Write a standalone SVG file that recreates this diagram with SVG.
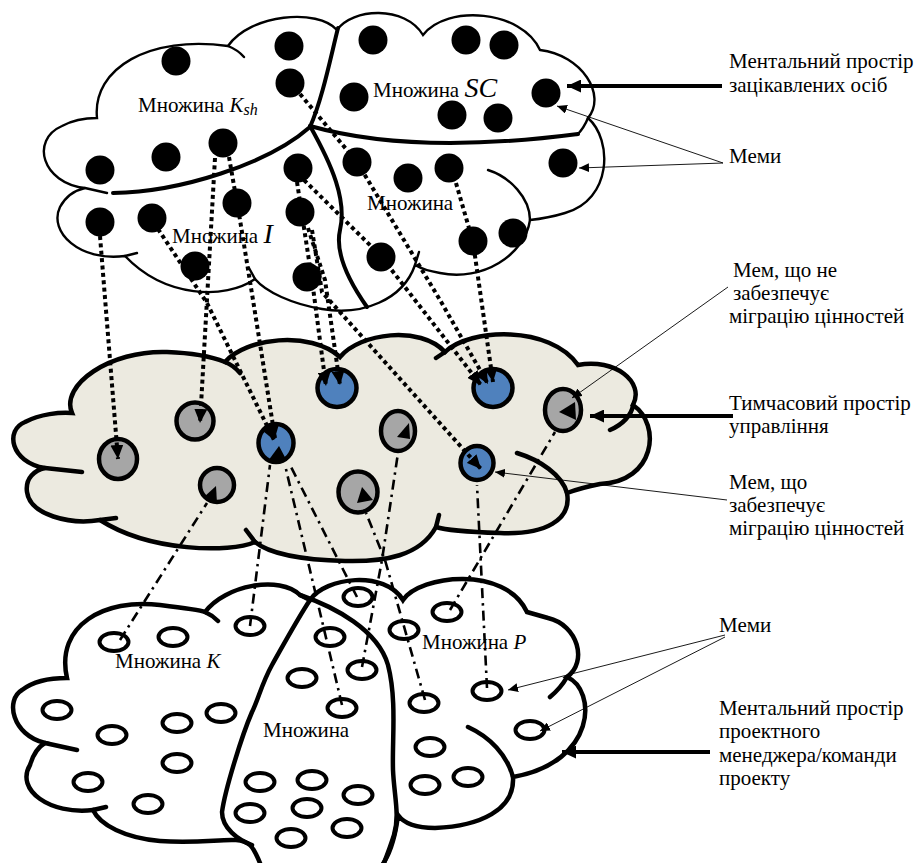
<svg xmlns="http://www.w3.org/2000/svg" width="920" height="863" viewBox="0 0 920 863">
<defs>
<marker id="ah" markerUnits="userSpaceOnUse" markerWidth="15" markerHeight="13" refX="14" refY="6.5" orient="auto"><path d="M0,0 L14,6.5 L0,13 z" fill="#000"/></marker>
<marker id="ahs" markerUnits="userSpaceOnUse" markerWidth="11" markerHeight="9" refX="10" refY="4.5" orient="auto"><path d="M0,0 L10,4.5 L0,9 z" fill="#000"/></marker>
<style>
.thin{fill:none;stroke:#000;stroke-width:2.4;stroke-linecap:round}
.thick{fill:none;stroke:#000;stroke-width:4;stroke-linecap:round}
.mid{fill:none;stroke:#000;stroke-width:4.5;stroke-linecap:round}
.dot{fill:#000}
.dotted{fill:none;stroke:#000;stroke-width:4;stroke-dasharray:4 3.4;marker-end:url(#ah)}
.dashdot{fill:none;stroke:#000;stroke-width:2.6;stroke-dasharray:10 5 2.5 5}
.gray{fill:#A6A6A6;stroke:#000;stroke-width:4.5}
.blue{fill:#4F81BD;stroke:#000;stroke-width:4.5}
.oval{fill:none;stroke:#000;stroke-width:4}
.ann{fill:none;stroke:#000;stroke-width:0.9;marker-end:url(#ahs)}
.annb{fill:none;stroke:#000;stroke-width:4;marker-end:url(#ah)}
text{font-family:"Liberation Serif","Times New Roman",serif;font-size:21px;fill:#000}
.it{font-style:italic}
</style>
</defs>

<g id="top-cloud">
<path d="M97,118 C92,68 150,35 228,46 C250,14 318,8 337,30 C352,8 405,5 423,35 C447,4 522,10 540,50 C582,55 607,95 588,118 C613,140 612,200 565,213 C552,217 540,219 530,220 C525,255 482,282 440,273 C428,271 420,268 415,265 C403,300 362,316 322,309 C292,304 266,292 255,279 C225,300 165,298 125,256 C80,262 48,232 60,207 C66,196 76,190 85,188 C42,183 30,140 62,126 C73,120 86,118 97,118 Z" fill="#fff" stroke="#000" stroke-width="2.4"/>
<path class="thin" d="M228,46 Q238,50 244,57 M588,118 Q584,128 577,135 M488,170 C510,177 530,198 530,220 M415,265 L419,252 M255,279 L249,268 M125,256 L137,253 M85,188 L107,193"/>
<path class="thick" d="M113,193 C180,192 268,164 310,127 C322,100 330,60 338,28"/>
<path class="thick" d="M310,126 C370,143 455,150 578,134"/>
<path class="thick" d="M310,126 C332,165 347,200 340,230 C335,252 348,280 367,307"/>
</g>

<g id="top-memes">
<circle class="dot" cx="176" cy="61" r="14.5"/>
<circle class="dot" cx="289" cy="46" r="14.5"/>
<circle class="dot" cx="290" cy="83" r="14.5"/>
<circle class="dot" cx="223" cy="143" r="14.5"/>
<circle class="dot" cx="166" cy="157" r="14.5"/>
<circle class="dot" cx="100" cy="170" r="14.5"/>
<circle class="dot" cx="100" cy="222" r="14.5"/>
<circle class="dot" cx="152" cy="218" r="14.5"/>
<circle class="dot" cx="237" cy="203" r="14.5"/>
<circle class="dot" cx="195" cy="266" r="14.5"/>
<circle class="dot" cx="298" cy="168" r="14.5"/>
<circle class="dot" cx="300" cy="212" r="14.5"/>
<circle class="dot" cx="307" cy="277" r="14.5"/>
<circle class="dot" cx="373" cy="40" r="14.5"/>
<circle class="dot" cx="466" cy="40" r="14.5"/>
<circle class="dot" cx="504" cy="45" r="14.5"/>
<circle class="dot" cx="354" cy="97" r="14.5"/>
<circle class="dot" cx="452" cy="115" r="14.5"/>
<circle class="dot" cx="498" cy="118" r="14.5"/>
<circle class="dot" cx="546" cy="93" r="14.5"/>
<circle class="dot" cx="563" cy="163" r="14.5"/>
<circle class="dot" cx="357" cy="162" r="14.5"/>
<circle class="dot" cx="408" cy="178" r="14.5"/>
<circle class="dot" cx="449" cy="168" r="14.5"/>
<circle class="dot" cx="473" cy="241" r="14.5"/>
<circle class="dot" cx="513" cy="233" r="14.5"/>
<circle class="dot" cx="381" cy="257" r="14.5"/>
</g>

<g id="top-labels">
<text x="138" y="112">Множина <tspan class="it">K</tspan><tspan class="it" font-size="16" dy="3">sh</tspan></text>
<text x="373" y="97">Множина <tspan class="it" font-size="28">SC</tspan></text>
<text x="367" y="210">Множина</text>
<text x="172" y="243">Множина <tspan class="it" font-size="28">I</tspan></text>
</g>

<g id="middle-cloud">
<path d="M72,413 C60,385 110,350 167,352 C195,353 215,358 225,362 C245,338 310,330 340,357 C360,333 420,325 445,352 C470,328 550,325 578,365 C615,358 645,382 633,405 C662,425 655,482 600,484 C590,486 575,490 567,493 C572,520 545,535 500,533 C470,532 445,530 436,527 C420,556 385,562 345,561 C300,560 268,553 255,542 C230,553 150,552 100,520 C70,525 30,515 27,492 C25,478 35,470 45,468 C10,462 5,430 25,422 C40,414 60,412 72,413 Z" fill="#ECEAE0" stroke="#000" stroke-width="4.5"/>
<path class="mid" d="M225,362 Q233,365 240,373 M445,352 L436,358 M633,405 C632,415 622,425 610,430 M517,453 C540,460 562,475 567,493 M436,527 L439,515 M255,542 L246,530 M100,520 L116,518 M45,468 L82,472"/>
</g>

<g id="middle-memes">
<ellipse class="gray" cx="118" cy="459" rx="19" ry="20"/>
<ellipse class="gray" cx="195" cy="421" rx="18.5" ry="18.5"/>
<ellipse class="gray" cx="217" cy="485" rx="17" ry="17"/>
<ellipse class="blue" cx="276" cy="443" rx="17.5" ry="19"/>
<ellipse class="blue" cx="337" cy="388" rx="19.5" ry="19"/>
<ellipse class="gray" cx="398" cy="431" rx="17" ry="20"/>
<ellipse class="gray" cx="358" cy="492" rx="19.5" ry="20.5"/>
<ellipse class="blue" cx="493" cy="388" rx="19.5" ry="19"/>
<ellipse class="blue" cx="477" cy="463" rx="16.5" ry="17"/>
<ellipse class="gray" cx="563" cy="410" rx="18" ry="21"/>
</g>

<g id="bottom-cloud">
<path d="M67,678 C55,625 105,598 160,605 C185,608 200,610 205,612 C225,585 280,575 300,595 L310,600 C325,577 385,570 403,600 C420,575 505,565 527,612 L548,618 C578,625 588,662 567,677 C597,690 597,762 513,777 C515,810 480,826 435,828 C420,828 405,825 398,815 C395,840 388,858 380,868 L262,868 C258,858 255,850 250,845 C238,834 210,845 160,841 C125,838 100,825 93,810 C50,815 15,790 30,765 C33,755 38,747 45,743 C12,735 5,700 22,690 C35,680 55,678 67,678 Z" fill="#fff" stroke="#000" stroke-width="4.5"/>
<path class="mid" d="M205,612 Q212,615 218,621 M567,677 C562,686 556,692 550,697 M468,727 C490,737 507,755 513,777 M45,743 L77,750 M93,810 L106,807"/>
<path class="mid" d="M300,595 C335,607 378,630 388,665 C397,700 392,740 393,770 C394,795 400,815 394,835 C390,848 386,858 382,868"/>
<path class="mid" d="M310,600 C298,618 285,642 272,665 C262,683 258,700 252,712 C242,735 225,790 222,812 C222,828 238,840 252,845"/>
</g>

<g id="bottom-memes">
<ellipse class="oval" cx="114" cy="642" rx="14.5" ry="9"/>
<ellipse class="oval" cx="173" cy="637" rx="14.5" ry="9"/>
<ellipse class="oval" cx="250" cy="626" rx="14.5" ry="9"/>
<ellipse class="oval" cx="57" cy="710" rx="14.5" ry="9"/>
<ellipse class="oval" cx="112" cy="735" rx="14.5" ry="9"/>
<ellipse class="oval" cx="177" cy="723" rx="14.5" ry="9"/>
<ellipse class="oval" cx="221" cy="713" rx="14.5" ry="9"/>
<ellipse class="oval" cx="177" cy="763" rx="14.5" ry="9"/>
<ellipse class="oval" cx="88" cy="782" rx="14.5" ry="9"/>
<ellipse class="oval" cx="148" cy="804" rx="14.5" ry="9"/>
<ellipse class="oval" cx="302" cy="678" rx="14.5" ry="9"/>
<ellipse class="oval" cx="260" cy="782" rx="14.5" ry="9"/>
<ellipse class="oval" cx="312" cy="780" rx="14.5" ry="9"/>
<ellipse class="oval" cx="250" cy="813" rx="14.5" ry="9"/>
<ellipse class="oval" cx="307" cy="808" rx="14.5" ry="9"/>
<ellipse class="oval" cx="291" cy="838" rx="14.5" ry="9"/>
<ellipse class="oval" cx="347" cy="828" rx="14.5" ry="9"/>
<ellipse class="oval" cx="358" cy="597" rx="14.5" ry="9"/>
<ellipse class="oval" cx="330" cy="637" rx="14.5" ry="9"/>
<ellipse class="oval" cx="404" cy="630" rx="14.5" ry="9"/>
<ellipse class="oval" cx="447" cy="612" rx="14.5" ry="9"/>
<ellipse class="oval" cx="362" cy="670" rx="14.5" ry="9"/>
<ellipse class="oval" cx="342" cy="708" rx="14.5" ry="9"/>
<ellipse class="oval" cx="424" cy="703" rx="14.5" ry="9"/>
<ellipse class="oval" cx="487" cy="691" rx="14.5" ry="9"/>
<ellipse class="oval" cx="530" cy="730" rx="14.5" ry="9"/>
<ellipse class="oval" cx="430" cy="747" rx="14.5" ry="9"/>
<ellipse class="oval" cx="468" cy="777" rx="14.5" ry="9"/>
<ellipse class="oval" cx="425" cy="785" rx="14.5" ry="9"/>
<ellipse class="oval" cx="358" cy="795" rx="14.5" ry="9"/>
</g>

<g id="bottom-labels">
<text x="115" y="668">Множина <tspan class="it">K</tspan></text>
<text x="263" y="737">Множина</text>
<text x="422" y="649">Множина <tspan class="it">P</tspan></text>
</g>

<g id="connectors">
<path class="dotted" d="M100,236 L118,459"/>
<path class="dotted" d="M215,158 L200,423"/>
<path class="dotted" d="M158,229 L207,303 L274,440"/>
<path class="dotted" d="M229,157 L240,220 L253,300 L275,438"/>
<path class="dotted" d="M297,182 L312,280 L326,386"/>
<path class="dotted" d="M308,228 L325,280 L340,385"/>
<path class="dotted" d="M312,230 L322,292 L481,469"/>
<path class="dotted" d="M300,94 L357,162 L440,300 L488,384"/>
<path class="dotted" d="M304,180 L380,255 L481,385"/>
<path class="dotted" d="M456,183 L473,242 L493,382"/>
<path class="dashdot" d="M120,640 L207,503"/>
<path class="dashdot" d="M250,626 L270,465"/>
<path class="dashdot" d="M342,705 L285,465"/>
<path class="dashdot" d="M357,597 L290,465"/>
<path class="dashdot" d="M362,667 L382,560 L398,453"/>
<path class="dashdot" d="M425,700 L385,560 L366,513"/>
<path class="dashdot" d="M487,688 L477,485"/>
<path class="dashdot" d="M450,610 L555,432"/>
<polygon points="204,497 216,486 217,503"/>
<polygon points="397,437 409,423 410,439"/>
<polygon points="362,487 373,500 357,503"/>
<polygon points="559,412 575,402 576,420"/>
<polygon points="268,461 279,446 287,461"/>
</g>

<g id="annotations">
<path class="annb" d="M722,86 L567,86"/>
<path class="ann" d="M723,163 L557,106"/>
<path class="ann" d="M723,163 L579,168"/>
<path class="ann" d="M728,287 L572,398"/>
<path class="annb" d="M733,416 L590,416"/>
<path class="ann" d="M727,500 L495,472"/>
<path class="ann" d="M725,635 L508,690"/>
<path class="ann" d="M725,637 L540,731"/>
<path class="annb" d="M710,752 L562,752"/>
</g>

<g id="right-labels">
<text x="729" y="68">Ментальний простір</text>
<text x="729" y="92">зацікавлених осіб</text>
<text x="729" y="163">Меми</text>
<text x="733" y="277">Мем, що не</text>
<text x="733" y="300">забезпечує</text>
<text x="729" y="323">міграцію цінностей</text>
<text x="729" y="410">Тимчасовий простір</text>
<text x="729" y="433">управління</text>
<text x="729" y="489">Мем, що</text>
<text x="729" y="512">забезпечує</text>
<text x="729" y="535">міграцію цінностей</text>
<text x="719" y="632">Меми</text>
<text x="719" y="715">Ментальний простір</text>
<text x="719" y="738">проектного</text>
<text x="719" y="762">менеджера/команди</text>
<text x="719" y="785">проекту</text>
</g>
</svg>
